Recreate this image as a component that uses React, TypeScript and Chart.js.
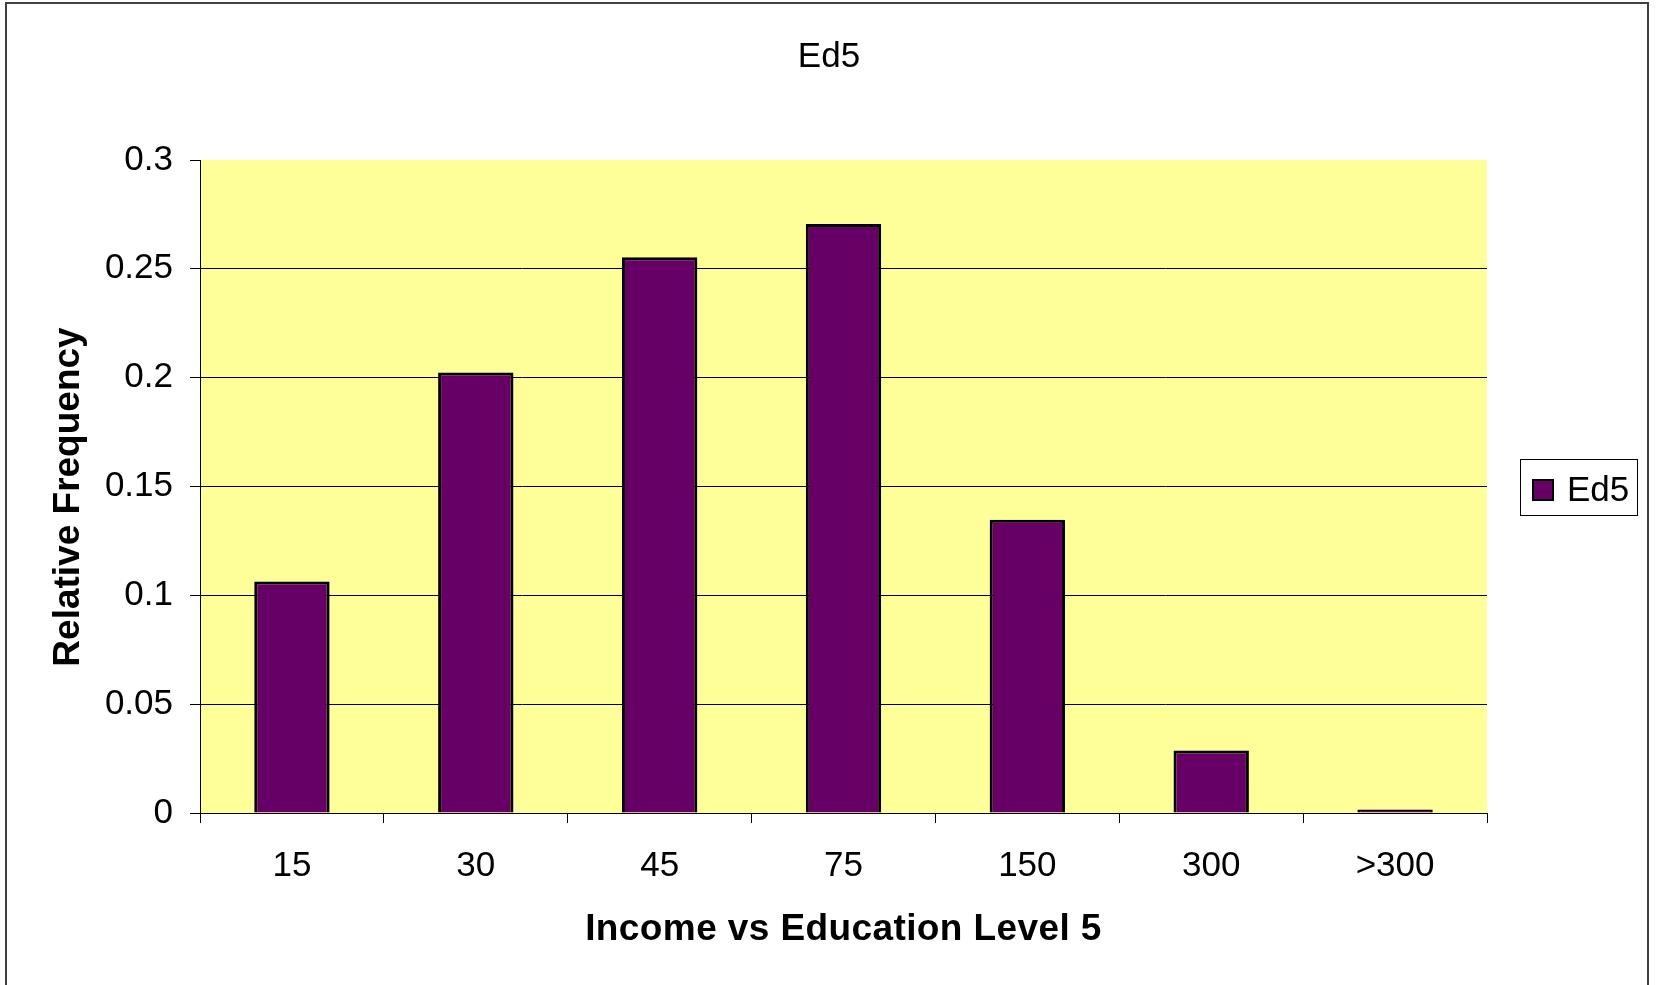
import { useEffect, useRef } from "react";
import { Chart, registerables } from "chart.js";

Chart.register(...registerables);

// Income brackets (thousands) and the relative frequency for education level 5
const incomeBrackets = ["15", "30", "45", "75", "150", "300", ">300"];
const ed5Frequency = [0.1064, 0.2024, 0.2553, 0.2706, 0.1347, 0.0287, 0.0016];

const seriesLabel = "Ed5";
const chartTitle = "Ed5";
const xAxisTitle = "Income vs Education Level 5";
const yAxisTitle = "Relative Frequency";

const yTickValues = [0, 0.05, 0.1, 0.15, 0.2, 0.25, 0.3];
const yTickLabels = ["0", "0.05", "0.1", "0.15", "0.2", "0.25", "0.3"];

const FONT = "'Liberation Sans', Arial, Helvetica, sans-serif";
const WIDTH = 1658;
const HEIGHT = 985;
const PLOT_BG = "#FFFF99";
const BAR_FILL = "#660066";

// White page, outer frame and the yellow plot area behind everything else
const backgroundPlugin = {
  id: "sheetBackground",
  beforeDraw(chart: any) {
    const { ctx, chartArea } = chart;
    ctx.save();
    ctx.fillStyle = "#ffffff";
    ctx.fillRect(0, 0, chart.width, chart.height);
    ctx.strokeStyle = "#404040";
    ctx.lineWidth = 2;
    ctx.strokeRect(6, 3, 1642, 1010);
    ctx.fillStyle = PLOT_BG;
    ctx.fillRect(
      chartArea.left,
      chartArea.top,
      chartArea.right - chartArea.left,
      chartArea.bottom - chartArea.top
    );
    ctx.restore();
  },
};

// Chart title centred on the sheet, plus both axis titles
const sheetTextPlugin = {
  id: "sheetText",
  afterDraw(chart: any) {
    const { ctx, chartArea } = chart;
    ctx.save();
    ctx.fillStyle = "#000000";
    ctx.textAlign = "center";
    ctx.textBaseline = "alphabetic";
    ctx.font = `35px ${FONT}`;
    ctx.fillText(chartTitle, chart.width / 2, 67);

    ctx.font = `bold 37px ${FONT}`;
    if ("letterSpacing" in ctx) (ctx as any).letterSpacing = "0.4px";
    ctx.fillText(xAxisTitle, (chartArea.left + chartArea.right) / 2, 940);
    if ("letterSpacing" in ctx) (ctx as any).letterSpacing = "0px";

    ctx.translate(79, 497);
    ctx.rotate(-Math.PI / 2);
    ctx.fillText(yAxisTitle, 0, 0);
    ctx.restore();
  },
};

// Boxed legend to the right of the plot area
const boxedLegendPlugin = {
  id: "boxedLegend",
  afterDraw(chart: any) {
    const { ctx, chartArea } = chart;
    const ds = chart.data.datasets[0];
    const boxW = 118;
    const boxH = 57;
    const left = chartArea.right + 33;
    const top = Math.round((chartArea.top + chartArea.bottom) / 2 - boxH / 2) + 1;
    ctx.save();
    ctx.fillStyle = "#ffffff";
    ctx.fillRect(left, top, boxW, boxH);
    ctx.strokeStyle = "#000000";
    ctx.lineWidth = 1;
    ctx.strokeRect(left + 0.5, top + 0.5, boxW - 1, boxH - 1);

    const sq = 20;
    const sqX = left + 13;
    const sqY = top + 21;
    ctx.fillStyle = ds.backgroundColor;
    ctx.fillRect(sqX, sqY, sq, sq);
    ctx.lineWidth = 2;
    ctx.strokeRect(sqX, sqY, sq, sq);

    ctx.fillStyle = "#000000";
    ctx.font = `35px ${FONT}`;
    ctx.textAlign = "left";
    ctx.textBaseline = "alphabetic";
    ctx.fillText(ds.label, left + 47, top + 42);
    ctx.restore();
  },
};

function tickLabel(value: number): string {
  const i = yTickValues.findIndex((v) => Math.abs(v - value) < 1e-9);
  return i >= 0 ? yTickLabels[i] : "";
}

export default function App() {
  const canvasRef = useRef<HTMLCanvasElement | null>(null);

  useEffect(() => {
    const canvas = canvasRef.current;
    if (!canvas) return;

    const chart = new Chart(canvas, {
      type: "bar",
      data: {
        labels: incomeBrackets,
        datasets: [
          {
            label: seriesLabel,
            data: ed5Frequency,
            backgroundColor: BAR_FILL,
            borderColor: "#000000",
            borderWidth: 3,
            borderSkipped: "start",
            barPercentage: 0.41,
            categoryPercentage: 1,
          },
        ],
      },
      options: {
        responsive: false,
        animation: false,
        devicePixelRatio: 1,
        layout: { padding: { left: 0, right: 171, top: 160, bottom: 0 } },
        plugins: {
          legend: { display: false },
          tooltip: { enabled: false },
          title: { display: false },
        },
        scales: {
          x: {
            type: "category",
            offset: true,
            grid: {
              display: true,
              offset: true,
              drawOnChartArea: false,
              drawTicks: true,
              tickLength: 10,
              tickColor: "#000000",
              tickWidth: 1,
            },
            border: { display: true, color: "#000000", width: 1 },
            ticks: {
              color: "#000000",
              font: { family: FONT, size: 35 },
              padding: 22,
              maxRotation: 0,
              autoSkip: false,
            },
            title: { display: false },
            afterFit: (scale: any) => {
              scale.height = 172;
            },
          },
          y: {
            min: 0,
            max: 0.3,
            ticks: {
              stepSize: 0.05,
              color: "#000000",
              font: { family: FONT, size: 35 },
              padding: 17,
              callback: (value: any) => tickLabel(Number(value)),
            },
            grid: {
              color: (c: any) =>
                c.tick && c.tick.value > 0.29 ? "rgba(0,0,0,0)" : "#000000",
              lineWidth: 1,
              tickColor: "#000000",
              tickLength: 10,
              tickWidth: 1,
            },
            border: { display: true, color: "#000000", width: 1 },
            title: { display: false },
            afterFit: (scale: any) => {
              scale.width = 200;
            },
          },
        },
      } as any,
      plugins: [backgroundPlugin, sheetTextPlugin, boxedLegendPlugin],
    });

    return () => {
      chart.destroy();
    };
  }, []);

  return (
    <div
      style={{
        position: "absolute",
        left: 0,
        top: 0,
        width: WIDTH,
        height: HEIGHT,
        overflow: "hidden",
        background: "#ffffff",
      }}
    >
      <canvas
        ref={canvasRef}
        width={WIDTH}
        height={HEIGHT}
        style={{ display: "block", width: WIDTH, height: HEIGHT }}
      />
    </div>
  );
}
